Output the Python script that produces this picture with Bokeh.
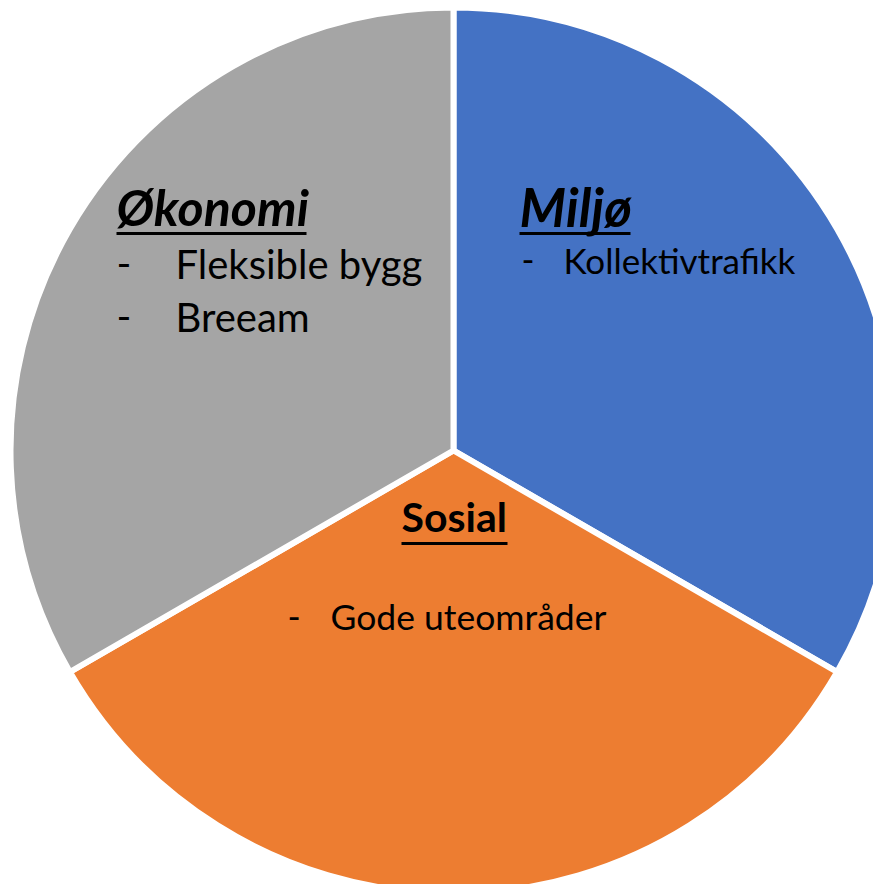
import math
from bokeh.plotting import figure
from bokeh.models import Range1d, ColumnDataSource
from bokeh.core.properties import value
from bokeh.embed import file_html
from bokeh.resources import INLINE

# ---- data ----
categories = ["Miljø", "Sosial", "Økonomi"]
shares = [1, 1, 1]
colors = ["#4472C4", "#ED7D31", "#A5A5A5"]
bullets = {
    "Økonomi": ["Fleksible bygg", "Breeam"],
    "Miljø": ["Kollektivtrafikk"],
    "Sosial": ["Gode uteområder"],
}

# ---- layout (screen pixels; y data = -pixel y) ----
CX, CY, R = 453, -450, 443
FONT = "Lato"
TEXT_DY = 15  # correction for rendered baseline

total = sum(shares)
starts, ends = [], []
cum = 0.0
for s in shares:
    a_end = math.pi / 2 - 2 * math.pi * cum / total
    cum += s
    a_start = math.pi / 2 - 2 * math.pi * cum / total
    starts.append(a_start)
    ends.append(a_end)

src = ColumnDataSource(dict(cat=categories, start=starts, end=ends, color=colors,
                            x=[CX] * 3, y=[CY] * 3))

p = figure(width=873, height=884, output_backend="svg", toolbar_location=None,
           x_range=Range1d(0, 873), y_range=Range1d(-884, 0), min_border=0,
           tools="")
p.axis.visible = False
p.grid.visible = False
p.outline_line_color = None
p.background_fill_color = "white"

p.wedge(x="x", y="y", radius=R, start_angle="start", end_angle="end",
        fill_color="color", line_color="white", line_width=6, source=src)

# title placement: (x_left, baseline_y, style, size, underline_y, underline_end_x)
title_layout = {
    "Økonomi": (116, 221, "bold italic", 50, 233, 306),
    "Miljø": (519, 221, "bold italic", 53, 233, 630),
    "Sosial": (401, 531, "bold", 41, 543, 507),
}
# bullets: (dash_x, text_x, baselines, size)
bullet_layout = {
    "Økonomi": (116, 175, [278, 331], 40),
    "Miljø": (521, 563, [274], 35),
    "Sosial": (287, 330, [631], 35.5),
}

for cat in categories:
    x0, base, style, size, uy, ux = title_layout[cat]
    p.text(x=[x0], y=[-(base - TEXT_DY)], text=[cat], text_font=value(FONT),
           text_font_style=style, text_font_size=f"{size}px",
           text_baseline="alphabetic", text_align="left", text_color="black")
    p.segment(x0=[x0], y0=[-uy], x1=[ux], y1=[-uy],
              line_color="black", line_width=3)
    dx, tx, ys, bsize = bullet_layout[cat]
    for label, by in zip(bullets[cat], ys):
        p.text(x=[dx], y=[-(by - TEXT_DY)], text=["-"], text_font=value(FONT),
               text_font_size=f"{bsize}px", text_baseline="alphabetic",
               text_align="left", text_color="black")
        p.text(x=[tx], y=[-(by - TEXT_DY)], text=[label], text_font=value(FONT),
               text_font_size=f"{bsize}px", text_baseline="alphabetic",
               text_align="left", text_color="black")

open("out.html", "w").write(file_html(p, INLINE))
